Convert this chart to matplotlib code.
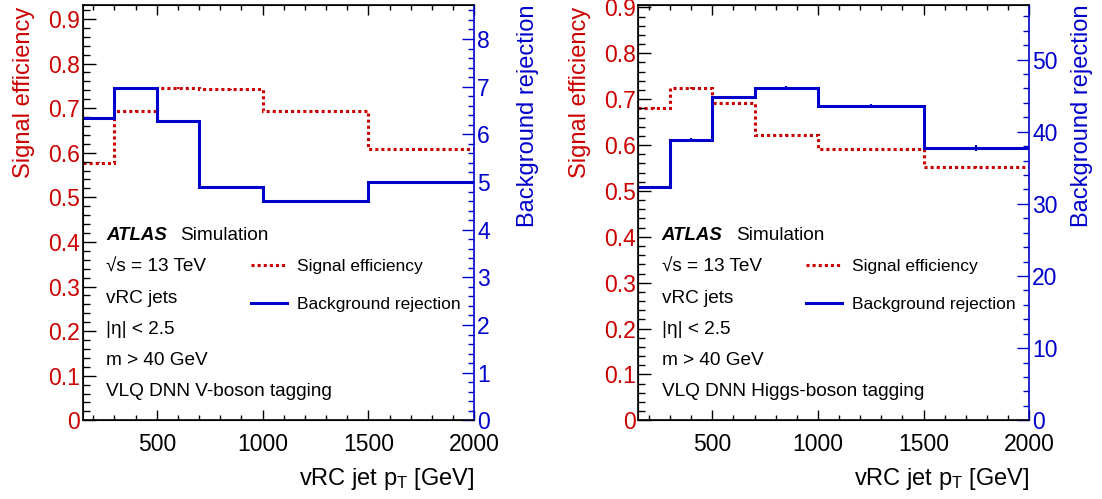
import matplotlib
matplotlib.use("Agg")
import matplotlib.pyplot as plt
from matplotlib.lines import Line2D
from matplotlib.ticker import MultipleLocator
import numpy as np

plt.rcParams['font.family'] = ['Liberation Sans', 'DejaVu Sans']
plt.rcParams['mathtext.fontset'] = 'custom'
plt.rcParams['mathtext.rm'] = 'Liberation Sans'
plt.rcParams['mathtext.it'] = 'Liberation Sans:italic'

# ---- data ----
pt_edges = [150, 300, 500, 700, 1000, 1500, 2000]

v_sig_eff = [0.578, 0.694, 0.746, 0.742, 0.694, 0.608]
v_sig_err = [0.002, 0.002, 0.002, 0.002, 0.002, 0.003]
v_bkg_rej = [6.34, 6.98, 6.27, 4.90, 4.61, 4.99]
v_bkg_err = [0.02, 0.02, 0.02, 0.02, 0.02, 0.03]

h_sig_eff = [0.681, 0.725, 0.692, 0.622, 0.591, 0.552]
h_sig_err = [0.002, 0.002, 0.002, 0.002, 0.002, 0.003]
h_bkg_rej = [32.3, 38.9, 44.8, 46.1, 43.6, 37.7]
h_bkg_err = [0.2, 0.2, 0.2, 0.2, 0.2, 0.4]

info_lines = ["√s = 13 TeV", "vRC jets", "|η| < 2.5", "m > 40 GeV"]
tag_labels = ["VLQ DNN V-boson tagging", "VLQ DNN Higgs-boson tagging"]

RED = '#cc0000'
BLUE = '#0000cc'
FS_TICK = 16.5
FS_LAB = 17
FS_TXT = 13.7
FS_LEG = 12.5

fig = plt.figure(figsize=(11.02, 4.99), dpi=100)

panels = [
    dict(pos=[0.0750, 0.1577, 0.3554, 0.8329], sig=v_sig_eff, serr=v_sig_err,
         bkg=v_bkg_rej, berr=v_bkg_err, ylim1=0.932, ylim2=8.72, maj2=1, min2=0.2,
         tag=tag_labels[0]),
    dict(pos=[0.5792, 0.1577, 0.3548, 0.8329], sig=h_sig_eff, serr=h_sig_err,
         bkg=h_bkg_rej, berr=h_bkg_err, ylim1=0.906, ylim2=57.6, maj2=10, min2=2,
         tag=tag_labels[1]),
]

centers = [(a + b) / 2 for a, b in zip(pt_edges[:-1], pt_edges[1:])]

for p in panels:
    ax = fig.add_axes(p['pos'])
    ax2 = ax.twinx()

    ax.stairs(p['sig'], pt_edges, baseline=None, color=RED, lw=2.2,
              linestyle=(0, (1, 1)))
    ax.errorbar(centers, p['sig'], yerr=p['serr'], fmt='none', ecolor=RED,
                elinewidth=1.5, capsize=0)
    ax2.stairs(p['bkg'], pt_edges, baseline=None, color=BLUE, lw=2.2)
    ax2.errorbar(centers, p['bkg'], yerr=p['berr'], fmt='none', ecolor=BLUE,
                 elinewidth=1.5, capsize=0)

    ax.set_xlim(150, 2000)
    ax.set_ylim(0, p['ylim1'])
    ax2.set_ylim(0, p['ylim2'])

    ax.xaxis.set_major_locator(MultipleLocator(500))
    ax.xaxis.set_minor_locator(MultipleLocator(100))
    ax.yaxis.set_major_locator(MultipleLocator(0.1))
    ax.yaxis.set_minor_locator(MultipleLocator(0.02))
    ax2.yaxis.set_major_locator(MultipleLocator(p['maj2']))
    ax2.yaxis.set_minor_locator(MultipleLocator(p['min2']))

    ax.yaxis.set_major_formatter(plt.FuncFormatter(lambda v, _: '0' if abs(v) < 1e-9 else f'{v:.1f}'))

    ax.tick_params(axis='x', which='both', direction='in', top=True, bottom=True,
                   labelsize=FS_TICK, pad=9)
    ax.tick_params(axis='x', which='major', length=7.2, width=1)
    ax.tick_params(axis='x', which='minor', length=3.6, width=1)
    ax.tick_params(axis='y', which='both', direction='in', left=True, right=False,
                   labelsize=FS_TICK, labelcolor=RED, pad=2)
    ax.tick_params(axis='y', which='major', length=9.4, width=1)
    ax.tick_params(axis='y', which='minor', length=5, width=1)

    ax2.tick_params(axis='y', which='both', direction='in', right=True, left=False,
                    labelsize=FS_TICK, labelcolor=BLUE, colors=BLUE, pad=2)
    ax2.tick_params(axis='y', which='major', length=8.6, width=1)
    ax2.tick_params(axis='y', which='minor', length=4.3, width=1)

    for s in ['left', 'top', 'bottom']:
        ax2.spines[s].set_color('black')
        ax.spines[s].set_color('black')
    ax2.spines['right'].set_color(BLUE)
    ax.spines['right'].set_visible(False)
    for s in ax2.spines.values():
        s.set_linewidth(1.2)

    ax.set_xlabel(r"vRC jet p$_{\mathregular{T}}$ [GeV]", fontsize=FS_LAB, loc='right',
                  labelpad=7)
    ax.set_ylabel("Signal efficiency", fontsize=FS_LAB, color=RED, loc='top')
    ax.yaxis.set_label_coords(-0.122, 0.995)
    ax2.set_ylabel("Background rejection", fontsize=FS_LAB, color=BLUE, loc='top')
    ax2.yaxis.set_label_coords(1.108, 1.0)

    tx = 0.0595
    ax2.text(tx, 0.444, "ATLAS", transform=ax.transAxes, fontsize=13.4,
             fontweight='bold', fontstyle='italic', va='center', ha='left')
    ax2.text(0.250, 0.444, "Simulation", transform=ax.transAxes,
             fontsize=FS_TXT, va='center', ha='left')
    ys = [0.3696, 0.2935, 0.219, 0.145]
    for y, t in zip(ys, info_lines):
        ax2.text(tx, y, t, transform=ax.transAxes, fontsize=FS_TXT,
                 va='center', ha='left')
    ax2.text(tx, 0.0688, p['tag'], transform=ax.transAxes, fontsize=FS_TXT,
             va='center', ha='left')

    handles = [Line2D([], [], color=RED, lw=2.2, linestyle=(0, (1, 1))),
               Line2D([], [], color=BLUE, lw=2.2)]
    ax2.legend(handles, ["Signal efficiency", "Background rejection"],
               loc='upper left', bbox_to_anchor=(0.429, 0.388),
               bbox_transform=ax.transAxes, frameon=False, fontsize=FS_LEG,
               handlelength=2.1, handletextpad=0.54, labelspacing=1.3,
               borderpad=0, borderaxespad=0)

fig.savefig("out.png", dpi=100)
